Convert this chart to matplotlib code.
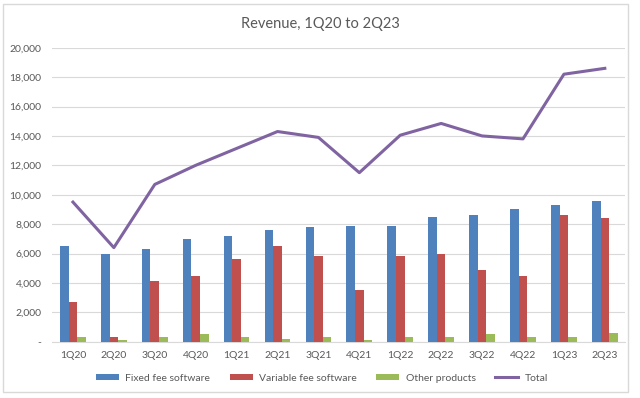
import matplotlib.pyplot as plt
import numpy as np
from matplotlib.patches import Rectangle

# =========================
# DATA
# =========================
quarters = ["1Q20", "2Q20", "3Q20", "4Q20", "1Q21", "2Q21", "3Q21",
            "4Q21", "1Q22", "2Q22", "3Q22", "4Q22", "1Q23", "2Q23"]
fixed_fee = [6500, 6000, 6300, 7000, 7200, 7600, 7800,
             7900, 7900, 8500, 8600, 9000, 9300, 9600]
variable_fee = [2700, 300, 4100, 4500, 5650, 6500, 5800,
                3500, 5850, 6000, 4900, 4500, 8600, 8400]
other_products = [300, 100, 300, 500, 300, 200, 300,
                  100, 300, 350, 500, 300, 300, 600]
total = [9500, 6400, 10700, 12000, 13150, 14300, 13900,
         11500, 14050, 14850, 14000, 13800, 18200, 18600]
y_ticks = [0, 2000, 4000, 6000, 8000, 10000, 12000, 14000, 16000, 18000, 20000]

plt.rcParams['font.family'] = ['Lato', 'DejaVu Sans']

# =========================
# PLOT
# =========================
fig = plt.figure(figsize=(6.4, 3.98), dpi=100)
ax = fig.add_axes([0.082, 0.1415, 0.895, 0.7385])

x = np.arange(len(quarters))
w = 0.21

b1 = ax.bar(x - w, fixed_fee, w, color="#4F81BD", label="Fixed fee software", zorder=3)
b2 = ax.bar(x, variable_fee, w, color="#C0504D", label="Variable fee software", zorder=3)
b3 = ax.bar(x + w, other_products, w, color="#9BBB59", label="Other products", zorder=3)
l1, = ax.plot(x, total, color="#8064A2", lw=2.2, label="Total", zorder=4)

ax.set_xlim(-0.5, len(quarters) - 0.5)
ax.set_ylim(0, 20000)
ax.set_xticks(x)
ax.set_xticklabels(quarters)
ax.set_yticks(y_ticks)
ax.set_yticklabels(["-" if v == 0 else f"{v:,}" for v in y_ticks])
ax.tick_params(axis="both", length=0, labelsize=7.5, colors="#595959")
ax.tick_params(axis="x", pad=7)
ax.tick_params(axis="y", pad=8)

ax.grid(axis="y", color="#D9D9D9", lw=0.8, zorder=0)
for s in ["top", "right", "left"]:
    ax.spines[s].set_visible(False)
ax.spines["bottom"].set_color("#D9D9D9")

fig.text(0.5, 0.94, "Revenue, 1Q20 to 2Q23", ha="center", va="center",
         fontsize=10.5, color="#595959")

fig.legend(handles=[b1, b2, b3, l1], loc="center", bbox_to_anchor=(0.503, 0.05),
           ncol=4, frameon=False, fontsize=7.5, labelcolor="#595959",
           handlelength=2.2, handletextpad=0.6, columnspacing=1.9,
           handleheight=0.45)

# chart frame
fig.patches.append(Rectangle((0.004, 0.015), 0.978, 0.975, transform=fig.transFigure,
                             fill=False, edgecolor="#D9D9D9", lw=1))

fig.savefig("out.png", dpi=100)
